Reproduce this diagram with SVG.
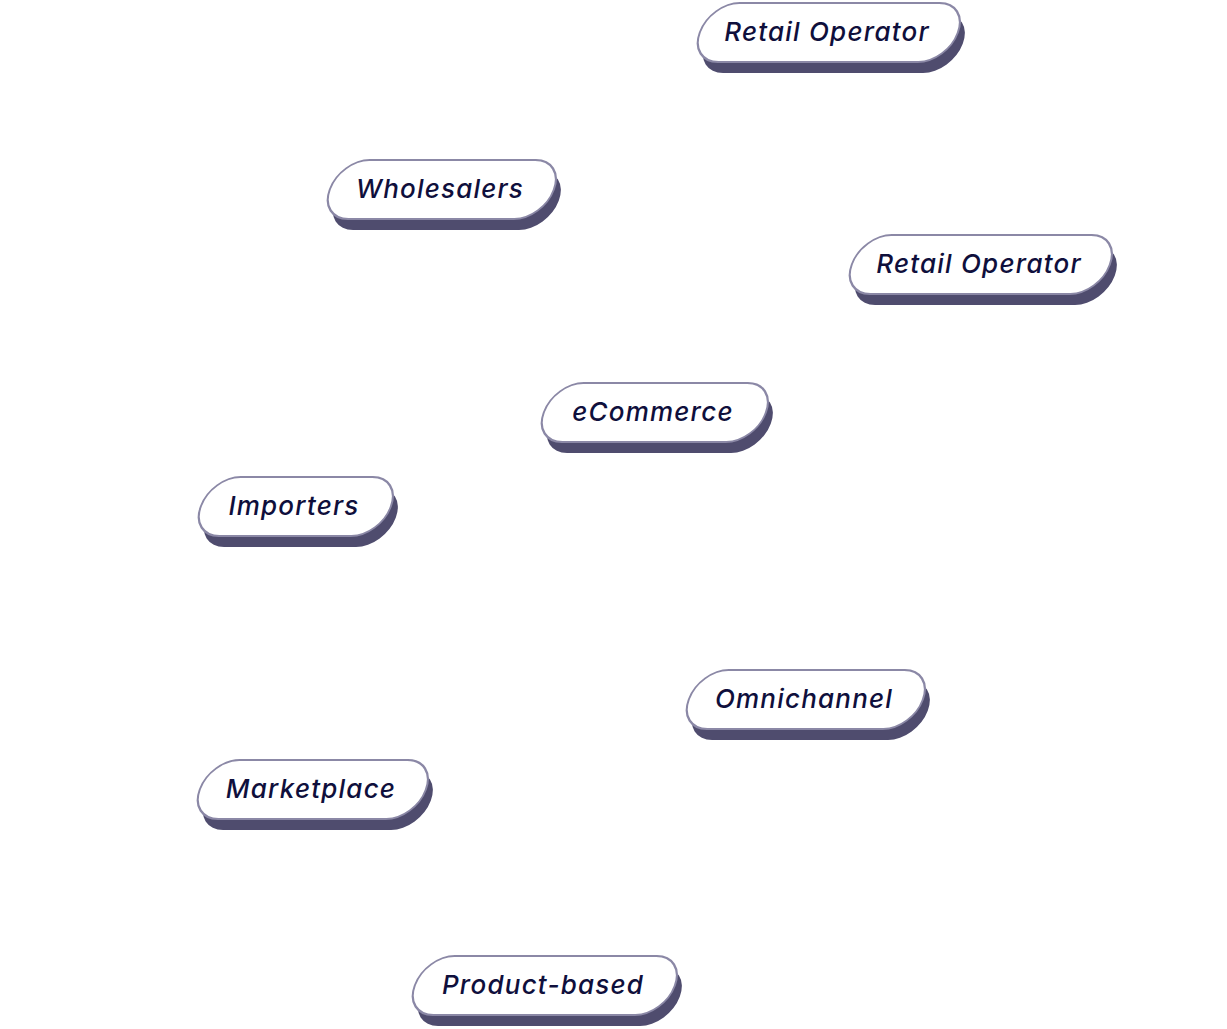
<svg xmlns="http://www.w3.org/2000/svg" width="1227" height="1029" viewBox="0 0 1227 1029">
<defs>
<style>
.sh{fill:#4f4c6e;}
.bd{fill:#ffffff;stroke:#8b88a6;stroke-width:2;}
.tx{font-family:Inter,"Open Sans","DejaVu Sans",sans-serif;font-style:italic;font-weight:500;font-size:26px;letter-spacing:1.2px;fill:#0f0f3c;text-anchor:middle;dominant-baseline:central;}
</style>
</defs>
<rect width="1227" height="1029" fill="#ffffff"/>
<g id="connectors"></g>
<g id="n1" transform="translate(829,32)">
<rect class="sh" x="-129" y="-29" width="258" height="59" rx="29" transform="translate(5,11) skewX(-20)"/>
<rect class="bd" x="-129" y="-29" width="258" height="59" rx="29" transform="skewX(-20)"/>
<text class="tx" x="-2" y="-1">Retail Operator</text>
</g>
<g id="n2" transform="translate(442,189)">
<rect class="sh" x="-112" y="-29" width="224" height="59" rx="29" transform="translate(5,11) skewX(-20)"/>
<rect class="bd" x="-112" y="-29" width="224" height="59" rx="29" transform="skewX(-20)"/>
<text class="tx" x="-2" y="-1">Wholesalers</text>
</g>
<g id="n3" transform="translate(981,264)">
<rect class="sh" x="-129" y="-29" width="258" height="59" rx="29" transform="translate(5,11) skewX(-20)"/>
<rect class="bd" x="-129" y="-29" width="258" height="59" rx="29" transform="skewX(-20)"/>
<text class="tx" x="-2" y="-1">Retail Operator</text>
</g>
<g id="n4" transform="translate(655,412)">
<rect class="sh" x="-111" y="-29" width="222" height="59" rx="29" transform="translate(5,11) skewX(-20)"/>
<rect class="bd" x="-111" y="-29" width="222" height="59" rx="29" transform="skewX(-20)"/>
<text class="tx" x="-2" y="-1">eCommerce</text>
</g>
<g id="n5" transform="translate(296,506)">
<rect class="sh" x="-95" y="-29" width="190" height="59" rx="29" transform="translate(5,11) skewX(-20)"/>
<rect class="bd" x="-95" y="-29" width="190" height="59" rx="29" transform="skewX(-20)"/>
<text class="tx" x="-2" y="-1">Importers</text>
</g>
<g id="n6" transform="translate(806,699)">
<rect class="sh" x="-117" y="-29" width="234" height="59" rx="29" transform="translate(5,11) skewX(-20)"/>
<rect class="bd" x="-117" y="-29" width="234" height="59" rx="29" transform="skewX(-20)"/>
<text class="tx" x="-2" y="-1">Omnichannel</text>
</g>
<g id="n7" transform="translate(313,789)">
<rect class="sh" x="-113" y="-29" width="226" height="59" rx="29" transform="translate(5,11) skewX(-20)"/>
<rect class="bd" x="-113" y="-29" width="226" height="59" rx="29" transform="skewX(-20)"/>
<text class="tx" x="-2" y="-1">Marketplace</text>
</g>
<g id="n8" transform="translate(545,985)">
<rect class="sh" x="-130" y="-29" width="260" height="59" rx="29" transform="translate(5,11) skewX(-20)"/>
<rect class="bd" x="-130" y="-29" width="260" height="59" rx="29" transform="skewX(-20)"/>
<text class="tx" x="-2" y="-1">Product-based</text>
</g>
</svg>
